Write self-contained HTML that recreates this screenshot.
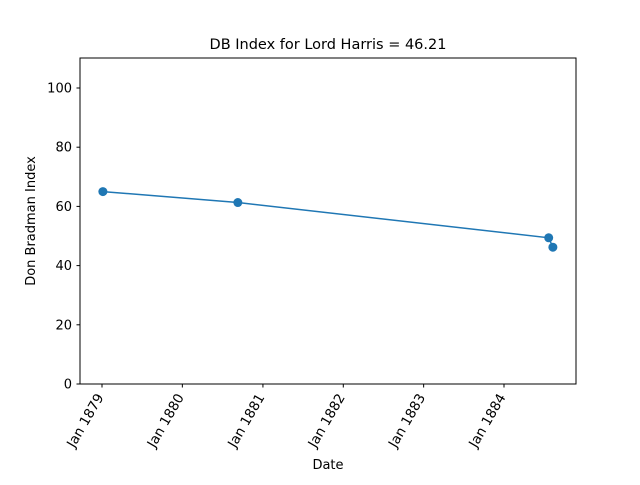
<!DOCTYPE html>
<html><head><meta charset="utf-8"><style>
body{margin:0;background:#fff;font-family:"Liberation Sans","DejaVu Sans",sans-serif;}
svg text{font-family:"DejaVu Sans","Liberation Sans",sans-serif;fill:#000;}
</style></head><body>
<svg id="chart" width="640" height="480" xmlns="http://www.w3.org/2000/svg">
<rect width="640" height="480" fill="#fff"/>
<text x="328" y="49" font-size="14.5" text-anchor="middle">DB Index for Lord Harris = 46.21</text>
<g id="plot"></g>
<rect x="80" y="58" width="496" height="326" fill="none" stroke="#000" stroke-width="1"/>
<text x="328" y="469" font-size="13" text-anchor="middle">Date</text>
<text transform="translate(35,221) rotate(-90)" font-size="13" text-anchor="middle">Don Bradman Index</text>
</svg>
<script>
const dates=["1879-01-05","1880-09-09","1884-07-22","1884-08-10"];
const values=[65.0,61.3,49.4,46.21];
const xTickYears=[1879,1880,1881,1882,1883,1884];
const yTicks=[0,20,40,60,80,100];
const NS="http://www.w3.org/2000/svg";
const g=document.getElementById('plot');
const t0=Date.UTC(1879,0,1),t1=Date.UTC(1884,0,1);
function x(ms){return 102+(ms-t0)/(t1-t0)*402;}
function y(v){return 384-v*2.96;}
function mk(tag,attrs){const e=document.createElementNS(NS,tag);for(const k in attrs)e.setAttribute(k,attrs[k]);g.appendChild(e);return e;}
yTicks.forEach(v=>{
 const l=mk('line',{x1:76.5,x2:80,y1:y(v),y2:y(v),stroke:'#000'});
 
 
 const t=mk('text',{x:72,y:y(v)+4.5,'font-size':13,'text-anchor':'end'});
 t.textContent=v;
 
 
});
xTickYears.forEach(yr=>{
 const px=x(Date.UTC(yr,0,1));
 const l=mk('line',{x1:px,x2:px,y1:384,y2:387.5,stroke:'#000'});
 
 
 const t=mk('text',{transform:`translate(${px+2},397) rotate(-60)`,'font-size':13.5,'text-anchor':'end'});
 t.textContent='Jan '+yr;
 
 
});
const pts=dates.map((d,i)=>[x(Date.parse(d)),y(values[i])]);
const line=mk('polyline',{points:pts.map(p=>p.join(',')).join(' '),fill:'none',stroke:'#1f77b4','stroke-width':1.5});


pts.forEach(p=>{
 const c=mk('circle',{cx:p[0],cy:p[1],r:4.5,fill:'#1f77b4'});
 
 
});
</script>
</body></html>
